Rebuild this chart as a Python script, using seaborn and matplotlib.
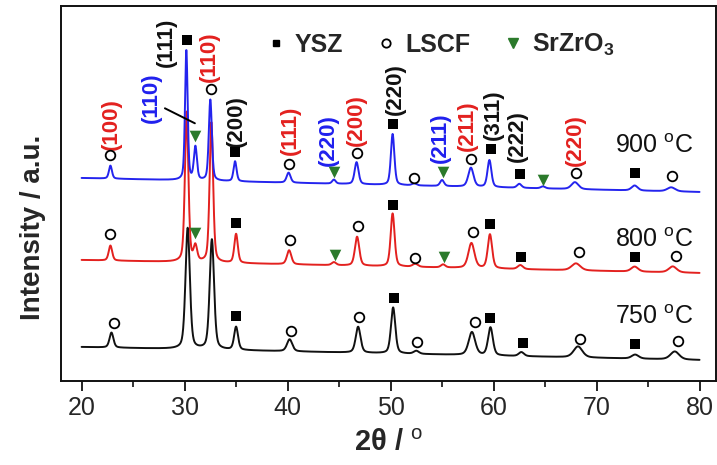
import numpy as np
import pandas as pd
import matplotlib
matplotlib.use("Agg")
import matplotlib.pyplot as plt
from matplotlib.lines import Line2D
from matplotlib.ticker import MultipleLocator
import seaborn as sns

# ---------------- data ----------------
samples = ["750 °C", "800 °C", "900 °C"]
colors = {"750 °C": "#111111", "800 °C": "#e3211f", "900 °C": "#2424ee"}

# background level at 20° and 80° for each pattern
bg_750 = [34, 21]
bg_800 = [121, 108]
bg_900 = [203, 189]

# peak positions (2θ), heights and FWHM for each pattern
pos_750 = [22.9, 30.3, 32.65, 35.0, 40.2, 46.85, 50.25, 52.5, 57.9, 59.7, 62.7, 68.2, 73.75, 77.6]
hgt_750 = [15, 121, 110, 23, 12, 26, 46, 3, 23, 28, 4, 11, 4, 8]
fw_750 = [0.45, 0.5, 0.5, 0.45, 0.6, 0.55, 0.5, 0.6, 0.75, 0.55, 0.6, 1.0, 0.8, 1.0]

pos_800 = [22.8, 30.2, 31.05, 32.6, 35.0, 40.15, 44.5, 46.75, 50.2, 52.4, 55.1, 57.85, 59.65, 62.6, 68.0, 73.7, 77.4]
hgt_800 = [15, 150, 15, 140, 29, 14, 3, 29, 53, 3, 3, 25, 34, 4, 7, 5, 6]
fw_800 = [0.4, 0.4, 0.4, 0.4, 0.4, 0.5, 0.5, 0.5, 0.45, 0.6, 0.5, 0.7, 0.5, 0.6, 1.0, 0.8, 0.9]

pos_900 = [22.8, 30.17, 31.05, 32.5, 34.9, 40.1, 44.5, 46.7, 50.2, 52.3, 55.0, 57.8, 59.6, 62.5, 64.8, 67.9, 73.7, 77.25]
hgt_900 = [13, 130, 33, 81, 20, 10, 4, 22, 51, 2, 6, 19, 27, 4, 2, 7, 5, 4]
fw_900 = [0.35, 0.3, 0.35, 0.35, 0.35, 0.45, 0.4, 0.45, 0.4, 0.5, 0.45, 0.6, 0.45, 0.5, 0.5, 0.8, 0.7, 0.9]

# phase markers (2θ, level)
ysz_x = [30.2, 34.9, 50.2, 59.8, 62.6, 73.7, 35.0, 50.2, 59.7, 62.7, 73.7, 35.0, 50.3, 59.7, 62.9, 73.75]
ysz_y = [341, 229, 257, 232, 207, 208, 158, 176, 157, 124, 124, 65, 83, 63, 38, 37]
lscf_x = [22.8, 32.6, 40.1, 46.7, 52.3, 57.8, 68.0, 77.3,
          22.8, 40.2, 46.8, 52.4, 58.05, 68.25, 77.7,
          23.1, 40.3, 46.9, 52.6, 58.2, 68.35, 77.9]
lscf_y = [226, 292, 217, 228, 203, 222, 208, 205,
          147, 141, 155, 123, 149, 129, 125,
          58, 50, 64, 39, 59, 42, 40]
srz_x = [31.05, 44.5, 55.1, 64.8, 31.05, 44.6, 55.15]
srz_y = [245, 209, 209, 201, 148, 126, 124]

# hkl labels
hkl_text = ["(100)", "(110)", "(111)", "(110)", "(200)", "(111)", "(220)", "(200)",
            "(220)", "(211)", "(211)", "(311)", "(222)", "(220)"]
hkl_x = [22.91, 26.8, 28.28, 32.36, 35.05, 40.32, 44.0, 46.7, 50.42, 54.79, 57.5, 60.0, 62.35, 67.9]
hkl_y = [256.5, 283.5, 338.5, 324, 260, 250.5, 240.5, 261, 292, 243, 255.5, 266.5, 244.5, 241]
hkl_phase = ["LSCF", "SrZrO3", "YSZ", "LSCF", "YSZ", "LSCF", "SrZrO3", "LSCF",
             "YSZ", "SrZrO3", "LSCF", "YSZ", "YSZ", "LSCF"]

temp_y = [64, 141, 235]
leader_x = [28.09, 31.0]
leader_y = [272.7, 257.7]

# ---------------- styling ----------------
sns.set_theme(style="ticks")
plt.rcParams["font.family"] = ["Liberation Sans", "DejaVu Sans"]
plt.rcParams["mathtext.fontset"] = "custom"
plt.rcParams["mathtext.rm"] = "Liberation Sans"
plt.rcParams["mathtext.it"] = "Liberation Sans:italic"
plt.rcParams["mathtext.bf"] = "Liberation Sans:bold"

phase_color = {"LSCF": "#e3211f", "SrZrO3": "#2020ee", "YSZ": "#111111"}
green = "#2b7a2b"


def profile(x, pos, hgt, fw, bg):
    y = np.interp(x, [20, 80], bg)
    for p, h, w in zip(pos, hgt, fw):
        g = np.exp(-4 * np.log(2) * ((x - p) / w) ** 2)
        lor = 1.0 / (1.0 + 4 * ((x - p) / w) ** 2)
        y = y + h * (0.6 * g + 0.4 * lor)
    return y


tt = np.arange(20.0, 80.0001, 0.02)
frames = []
for name, pos, hgt, fw, bg in [
    ("750 °C", pos_750, hgt_750, fw_750, bg_750),
    ("800 °C", pos_800, hgt_800, fw_800, bg_800),
    ("900 °C", pos_900, hgt_900, fw_900, bg_900),
]:
    frames.append(pd.DataFrame({"two_theta": tt, "intensity": profile(tt, pos, hgt, fw, bg), "sample": name}))
df = pd.concat(frames, ignore_index=True)

fig = plt.figure(figsize=(7.17, 4.65), dpi=100)
ax = fig.add_axes([61 / 717, 84 / 465, 655 / 717, 375 / 465])

sns.lineplot(data=df, x="two_theta", y="intensity", hue="sample", hue_order=samples,
             palette=colors, estimator=None, sort=False, legend=False, lw=1.4, ax=ax)

sns.scatterplot(x=ysz_x, y=ysz_y, marker="s", color="black", s=45, linewidth=0, ax=ax, zorder=5)
sns.scatterplot(x=lscf_x, y=lscf_y, marker="o", facecolors="white", edgecolor="black",
                s=48, linewidth=1.3, ax=ax, zorder=5)
sns.scatterplot(x=srz_x, y=srz_y, marker="v", color=green, s=70, linewidth=0, ax=ax, zorder=5)

for t, x, y, ph in zip(hkl_text, hkl_x, hkl_y, hkl_phase):
    ax.text(x, y, t, rotation=90, ha="center", va="center", fontsize=16,
            fontweight="bold", color=phase_color[ph])

ax.plot(leader_x, leader_y, color="black", lw=1.4)

for s, y in zip(samples, temp_y):
    ax.text(79.4, y, s.replace("°", "$^{\\rm o}$"), ha="right", va="center", fontsize=18, color="#111111")

handles = [
    Line2D([], [], ls="none", marker="s", color="black", markersize=5),
    Line2D([], [], ls="none", marker="o", markerfacecolor="white", markeredgecolor="black",
           markeredgewidth=1.3, markersize=6),
    Line2D([], [], ls="none", marker="v", color=green, markersize=7),
]
leg = ax.legend(handles, ["YSZ", "LSCF", "SrZrO$_\\mathbf{3}$"], loc="center left",
                bbox_to_anchor=(0.309, 0.896), ncol=3, frameon=False, handlelength=1.0,
                handletextpad=0.26, columnspacing=1.2, borderpad=0, borderaxespad=0,
                prop={"size": 18, "weight": "bold"})

ax.set_xlim(18, 81.6)
ax.set_ylim(0, 375)
ax.set_yticks([])
ax.xaxis.set_major_locator(MultipleLocator(10))
ax.xaxis.set_minor_locator(MultipleLocator(5))
ax.set_xticks(range(20, 81, 10))
ax.tick_params(axis="x", which="major", direction="out", length=7, width=1.3, labelsize=18, pad=4, color="#111111")
ax.tick_params(axis="x", which="minor", direction="out", length=4, width=1.2, color="#111111")
for sp in ax.spines.values():
    sp.set_linewidth(1.4)
    sp.set_color("#111111")

ax.set_xlabel("2θ / $^{\\rm o}$", fontsize=21, fontweight="bold", labelpad=6)
ax.set_ylabel("Intensity / a.u.", fontsize=20, fontweight="bold")
ax.yaxis.set_label_coords(-0.0229, 0.41)

fig.savefig("out.png", dpi=100)
